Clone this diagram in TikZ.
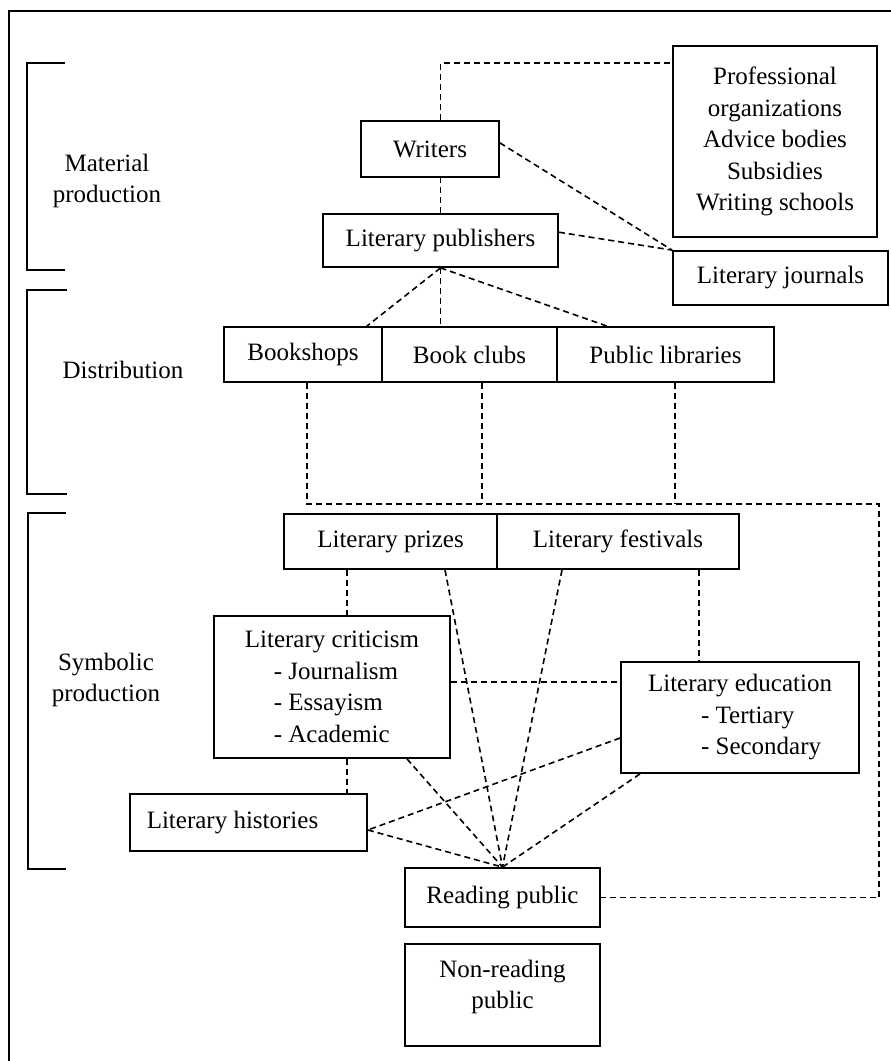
\documentclass[tikz,border=0pt]{standalone}
\usepackage{fontspec}
\setmainfont{Liberation Serif}
\usetikzlibrary{calc}
\newcommand\diagfont{\fontsize{25}{31.5}\selectfont}
\begin{document}
\begin{tikzpicture}[x=1pt,y=-1pt,
  box/.style={draw, line width=1.8pt, inner sep=0pt, align=center, font=\diagfont},
  link/.style={draw, line width=1.6pt, dash pattern=on 6pt off 4pt},
  bracketline/.style={line width=1.8pt},
  sectionlabel/.style={align=center, inner sep=0pt, font=\diagfont}]
\useasboundingbox (0,0) rectangle (891,1061);
\clip (0,0) rectangle (891,1061);
% outer frame
\draw[line width=1.6pt] (9,11) rectangle (930,1100);

% section brackets and their labels
\draw[bracketline] (65,63) -- (27,63) -- (27,270) -- (65,270);
\draw[bracketline] (67,290) -- (27,290) -- (27,494) -- (67,494);
\draw[bracketline] (66,513) -- (28,513) -- (28,869) -- (66,869);
\node[sectionlabel] (matlab) at (107,181) {Material\\production};
\node[sectionlabel] (dislab) at (123,370) {Distribution};
\node[sectionlabel] (symlab) at (106,680) {Symbolic\\production};

% material production
\node[box, minimum width=138, minimum height=56] (writers) at (430,149) {Writers};
\node[box, minimum width=235, minimum height=53] (pub) at (440.5,240.5) {Literary publishers};
\node[box, minimum width=204, minimum height=191] (prof) at (775,141.5)
  {Professional\\organizations\\Advice bodies\\Subsidies\\Writing schools};
\node[box, minimum width=215, minimum height=54] (journals) at (780.5,278) {Literary journals};

% distribution
\node[box, minimum width=158, minimum height=55] (bookshops) at (303,354.5) {Bookshops};
\node[box, minimum width=175, minimum height=55] (clubs) at (469.5,354.5) {Book clubs};
\node[box, minimum width=217, minimum height=55] (libraries) at (665.5,354.5) {Public libraries};

% symbolic production
\node[box, minimum width=213, minimum height=55] (prizes) at (390.5,541.5) {Literary prizes};
\node[box, minimum width=242, minimum height=55] (festivals) at (618,541.5) {Literary festivals};
\node[box, align=left, minimum width=236, minimum height=142] (criticism) at (332,687)
  {Literary criticism\\\hspace*{29pt}- Journalism\\\hspace*{29pt}- Essayism\\\hspace*{29pt}- Academic};
\node[box, align=left, minimum width=238, minimum height=111] (education) at (740,717.5)
  {Literary education\\\hspace*{53pt}- Tertiary\\\hspace*{53pt}- Secondary};
\node[box, minimum width=237, minimum height=57] (histories) at (248.5,822.5)
  {Literary histories\hspace*{32pt}};

% publics
\node[box, minimum width=195, minimum height=59] (reading) at (502.5,897.5) {Reading public};
\node[box, minimum width=195, minimum height=102] (nonreading) at (502.5,995) {};
\node[sectionlabel] (nrtext) at (502.5,987) {Non-reading\\public};

% connectors: material production
\draw[link] (pub.north) -- (pub.north |- writers.south);
\draw[link] (pub.north |- writers.north) |- ($(prof.north west)+(0,18)$);
\draw[link] (writers.5) -- (journals.north west);
\draw[link] (pub.4) -- (journals.north west);

% connectors: publishers to distribution
\draw[link] (pub.south) -- ($(bookshops.north east)+(-16,0)$);
\draw[link] (pub.south) -- (pub.south |- clubs.north);
\draw[link] (pub.south) -- ($(libraries.north west)+(51,0)$);

% connectors: distribution to reading public
\coordinate (dcorner) at (879,504);
\coordinate (bs) at ($(bookshops.south)+(4,0)$);
\coordinate (cs) at ($(clubs.south)+(12.5,0)$);
\coordinate (ls) at ($(libraries.south)+(9.5,0)$);
\draw[link] (bs) |- (dcorner) |- (reading.east);
\draw[link] (cs) -- (cs |- dcorner);
\draw[link] (ls) -- (ls |- dcorner);

% connectors: symbolic production
\coordinate (rp) at (reading.north);
\coordinate (cx) at (347,0);
\coordinate (ex) at (699,0);
\coordinate (hy) at (0,682);
\coordinate (hr) at ($(histories.east)+(0,7.5)$);
\draw[link] (cx |- prizes.south) -- (cx |- criticism.north);
\draw[link] (cx |- criticism.south) -- (cx |- histories.north);
\draw[link] (ex |- festivals.south) -- (ex |- education.north);
\draw[link] (criticism.east |- hy) -- (education.west |- hy);
\draw[link] ($(education.west)+(0,20.5)$) -- (hr);
\draw[link] ($(prizes.south)+(54.5,0)$) -- (rp);
\draw[link] ($(festivals.south)+(-56,0)$) -- (rp);
\draw[link] ($(criticism.south)+(75,0)$) -- (rp);
\draw[link] ($(education.south)+(-100,0)$) -- (rp);
\draw[link] (hr) -- (rp);
\end{tikzpicture}
\end{document}
